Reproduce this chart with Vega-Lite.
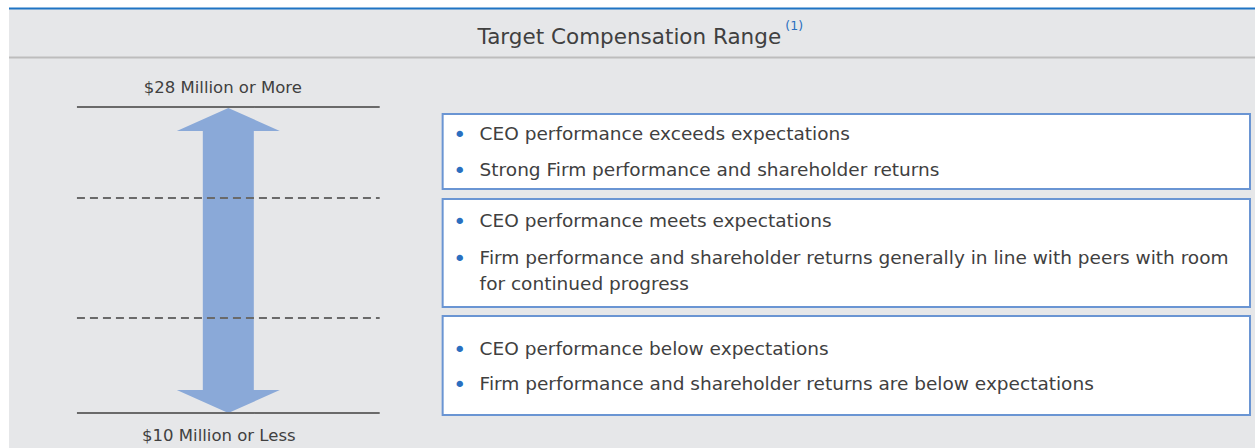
{
  "$schema": "https://vega.github.io/schema/vega-lite/v6.json",
  "width": 1256,
  "height": 448,
  "autosize": {"type": "fit", "contains": "padding"},
  "padding": 0,
  "background": "#ffffff",
  "config": {"view": {"stroke": null}, "axis": {"disable": true}, "legend": {"disable": true}},
  "datasets": {
    "panels": [
      {"name": "background", "x0": 9, "x1": 1256, "y0": 9, "y1": 448}
    ],
    "arrow": [
      {"name": "range", "x": 228.5, "y": 260.5}
    ],
    "levels": [
      {"kind": "bound", "y": 107, "x0": 77, "x1": 380},
      {"kind": "tier", "y": 198, "x0": 77, "x1": 380},
      {"kind": "tier", "y": 318, "x0": 77, "x1": 380},
      {"kind": "bound", "y": 413, "x0": 77, "x1": 380}
    ],
    "frames": [
      {"kind": "top", "y": 8.5, "x0": 9, "x1": 1256},
      {"kind": "sep", "y": 57.5, "x0": 9, "x1": 1256}
    ],
    "boxes": [
      {"tier": "high", "x0": 443, "x1": 1251, "y0": 114, "y1": 189},
      {"tier": "mid", "x0": 443, "x1": 1251, "y0": 199, "y1": 307},
      {"tier": "low", "x0": 443, "x1": 1251, "y0": 316, "y1": 415}
    ],
    "bullets": [
      {"y": 140, "x": 460, "bx": 480, "text": "CEO performance exceeds expectations"},
      {"y": 176, "x": 460, "bx": 480, "text": "Strong Firm performance and shareholder returns"},
      {"y": 227, "x": 460, "bx": 480, "text": "CEO performance meets expectations"},
      {"y": 264, "x": 460, "bx": 480, "text": "Firm performance and shareholder returns generally in line with peers with room"},
      {"y": 290, "x": null, "bx": 480, "text": "for continued progress"},
      {"y": 355, "x": 460, "bx": 480, "text": "CEO performance below expectations"},
      {"y": 390, "x": 460, "bx": 480, "text": "Firm performance and shareholder returns are below expectations"}
    ],
    "endLabels": [
      {"x": 223, "y": 92.5, "text": "$28 Million or More"},
      {"x": 219, "y": 440.5, "text": "$10 Million or Less"}
    ],
    "title": [
      {"x": 478, "y": 43.5, "text": "Target Compensation Range", "sx": 786, "sy": 29.5, "sup": "(1)"}
    ]
  },
  "encoding": {},
  "layer": [
    {
      "data": {"name": "panels"},
      "mark": {"type": "rect", "fill": "#e6e7e9"},
      "encoding": {
        "x": {"field": "x0", "type": "quantitative", "scale": {"domain": [0, 1256], "nice": false, "zero": false}},
        "x2": {"field": "x1"},
        "y": {"field": "y0", "type": "quantitative", "scale": {"domain": [0, 448], "nice": false, "zero": false, "reverse": true}},
        "y2": {"field": "y1"}
      }
    },
    {
      "data": {"name": "frames"},
      "mark": {"type": "rule", "strokeWidth": 2},
      "encoding": {
        "x": {"field": "x0", "type": "quantitative"},
        "x2": {"field": "x1"},
        "y": {"field": "y", "type": "quantitative"},
        "color": {"field": "kind", "type": "nominal", "scale": {"domain": ["top", "sep"], "range": ["#1f74c4", "#bdbdbd"]}}
      }
    },
    {
      "data": {"name": "arrow"},
      "mark": {
        "type": "point",
        "filled": true,
        "opacity": 1,
        "fill": "#8aa9d8",
        "strokeWidth": 0,
        "size": 93025,
        "shape": "M0,-1L0.3377,-0.8492L0.1672,-0.8492L0.1672,0.8492L0.3377,0.8492L0,1L-0.3377,0.8492L-0.1672,0.8492L-0.1672,-0.8492L-0.3377,-0.8492Z"
      },
      "encoding": {
        "x": {"field": "x", "type": "quantitative"},
        "y": {"field": "y", "type": "quantitative"}
      }
    },
    {
      "data": {"name": "levels"},
      "mark": {"type": "rule", "color": "#6a6a6a", "strokeWidth": 2},
      "encoding": {
        "x": {"field": "x0", "type": "quantitative"},
        "x2": {"field": "x1"},
        "y": {"field": "y", "type": "quantitative"},
        "strokeDash": {"field": "kind", "type": "nominal", "scale": {"domain": ["bound", "tier"], "range": [[1, 0], [8, 5]]}}
      }
    },
    {
      "data": {"name": "boxes"},
      "mark": {"type": "rect", "fill": "#ffffff", "stroke": "#6a95d3", "strokeWidth": 2},
      "encoding": {
        "x": {"field": "x0", "type": "quantitative"},
        "x2": {"field": "x1"},
        "y": {"field": "y0", "type": "quantitative"},
        "y2": {"field": "y1"}
      }
    },
    {
      "data": {"name": "bullets"},
      "transform": [{"filter": "datum.x != null"}],
      "mark": {"type": "text", "text": "•", "color": "#2a6fc0", "fontSize": 22, "dy": 1.5, "font": "DejaVu Sans", "align": "center", "baseline": "alphabetic"},
      "encoding": {
        "x": {"field": "x", "type": "quantitative"},
        "y": {"field": "y", "type": "quantitative"}
      }
    },
    {
      "data": {"name": "bullets"},
      "mark": {"type": "text", "color": "#404040", "fontSize": 18.5, "font": "DejaVu Sans", "align": "left", "baseline": "alphabetic"},
      "encoding": {
        "x": {"field": "bx", "type": "quantitative"},
        "y": {"field": "y", "type": "quantitative"},
        "text": {"field": "text"}
      }
    },
    {
      "data": {"name": "endLabels"},
      "mark": {"type": "text", "color": "#404040", "fontSize": 16.5, "font": "DejaVu Sans", "align": "center", "baseline": "alphabetic"},
      "encoding": {
        "x": {"field": "x", "type": "quantitative"},
        "y": {"field": "y", "type": "quantitative"},
        "text": {"field": "text"}
      }
    },
    {
      "data": {"name": "title"},
      "mark": {"type": "text", "color": "#404040", "fontSize": 21.5, "font": "DejaVu Sans", "align": "left", "baseline": "alphabetic"},
      "encoding": {
        "x": {"field": "x", "type": "quantitative"},
        "y": {"field": "y", "type": "quantitative"},
        "text": {"field": "text"}
      }
    },
    {
      "data": {"name": "title"},
      "mark": {"type": "text", "color": "#2a6fc0", "fontSize": 12.5, "font": "DejaVu Sans", "align": "left", "baseline": "alphabetic"},
      "encoding": {
        "x": {"field": "sx", "type": "quantitative"},
        "y": {"field": "sy", "type": "quantitative"},
        "text": {"field": "sup"}
      }
    }
  ]
}
